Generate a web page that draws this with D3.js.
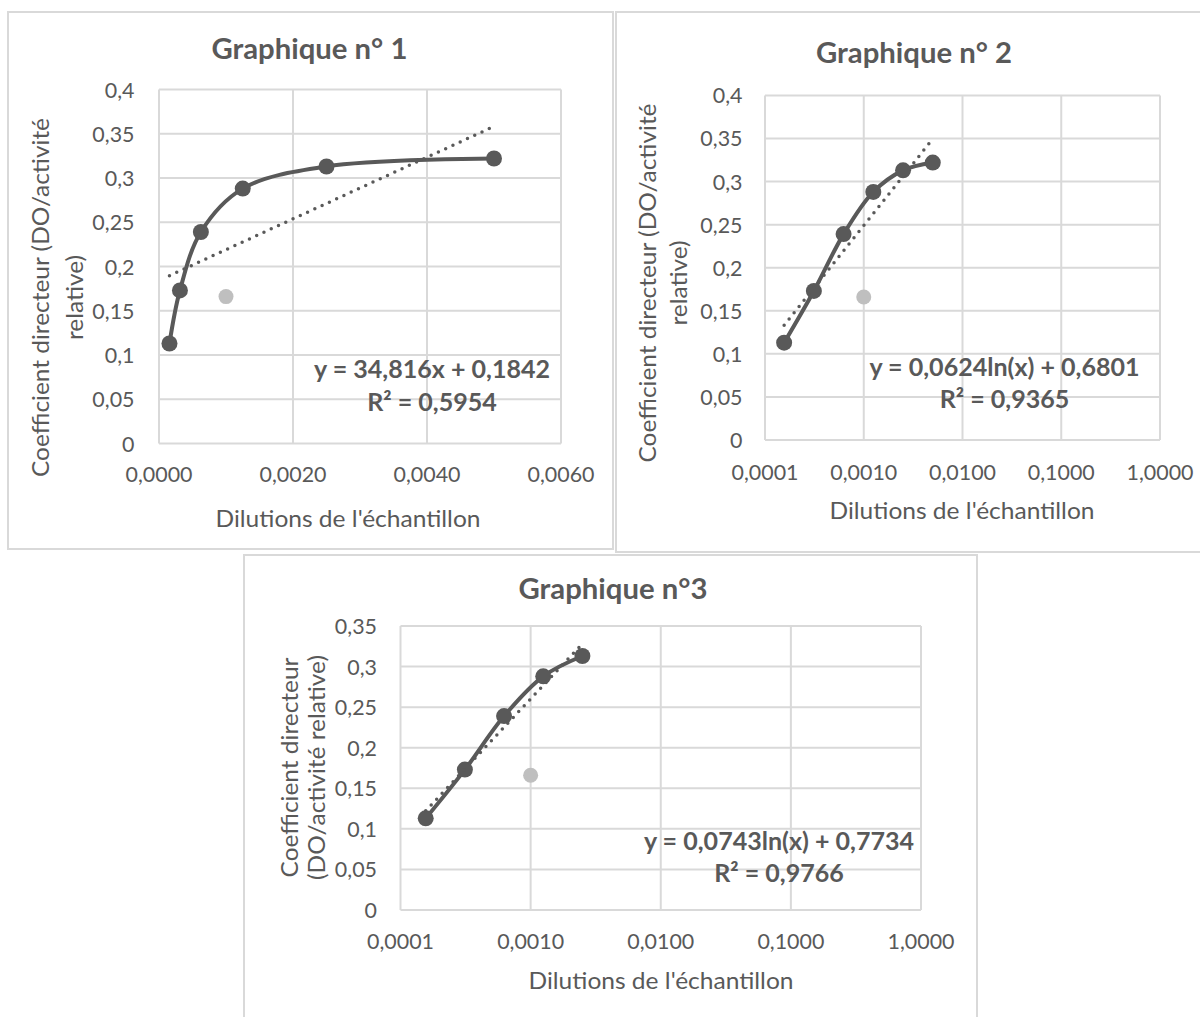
<!DOCTYPE html>
<html><head><meta charset="utf-8">
<script src="https://cdn.jsdelivr.net/npm/d3@7"></script>
<style>
body{margin:0;background:#fff}
svg{display:block}
text{font-family:Lato,"Open Sans",sans-serif;fill:#595959}
</style>
</head><body>
<svg id="c" width="1200" height="1017"></svg>
<script>
// ---------- data ----------
const dilutions = [0.00015625, 0.0003125, 0.000625, 0.00125, 0.0025, 0.005];
const coefficients = [0.113, 0.173, 0.239, 0.288, 0.313, 0.322];
const dilutions3 = [0.00015625, 0.0003125, 0.000625, 0.00125, 0.0025];
const coefficients3 = [0.113, 0.173, 0.239, 0.288, 0.313];
const excludedDilution = [0.001];
const excludedCoefficient = [0.166];
const titles = ["Graphique n° 1", "Graphique n° 2", "Graphique n°3"];
const xAxisTitle = "Dilutions de l'échantillon";
const yAxisTitle12 = ["Coefficient directeur (DO/activité", "relative)"];
const yAxisTitle3 = ["Coefficient directeur", "(DO/activité relative)"];
const yTicks12 = [0, 0.05, 0.1, 0.15, 0.2, 0.25, 0.3, 0.35, 0.4];
const yTicks3 = [0, 0.05, 0.1, 0.15, 0.2, 0.25, 0.3, 0.35];
const xTicksLinear = [0, 0.002, 0.004, 0.006];
const xTicksLog = [0.0001, 0.001, 0.01, 0.1, 1];
const trendSlopes = [34.816, 0.0624, 0.0743];
const trendIntercepts = [0.1842, 0.6801, 0.7734];
const trendKinds = ["linear", "log", "log"];
const equations = [
  ["y = 34,816x + 0,1842", "R² = 0,5954"],
  ["y = 0,0624ln(x) + 0,6801", "R² = 0,9365"],
  ["y = 0,0743ln(x) + 0,7734", "R² = 0,9766"]
];

// ---------- style ----------
const INK = "#595959", GRID = "#d9d9d9", LIGHT = "#bfbfbf";
const svg = d3.select("#c");

// font styles: size chosen to match cap height, squeeze factor to match width
function makeStyle(refTxt, weight, size, target) {
  const t = svg.append("text").attr("font-size", size).attr("font-weight", weight).text(refTxt);
  const w = t.node().getComputedTextLength();
  t.remove();
  return {size, weight, k: target / w};
}
const S = {
  title: makeStyle(titles[0], "bold", 28.5, 196),
  tick: makeStyle("0,0020", "normal", 20.5, 67),
  axis: makeStyle(xAxisTitle, "normal", 23.5, 265),
  ytitle: makeStyle(yAxisTitle12[0], "normal", 23.5, 359),
  eq: makeStyle(equations[0][0], "bold", 25, 236)
};
function styled(sel, st) {
  sel.attr("font-size", st.size).attr("font-weight", st.weight);
  sel.each(function() {
    const w = this.getComputedTextLength();
    d3.select(this).attr("textLength", w * st.k).attr("lengthAdjust", "spacingAndGlyphs");
  });
  return sel;
}

const fmtX = v => d3.format(".4f")(v).replace(".", ",");
const fmtY = v => String(+v.toFixed(2)).replace(".", ",");

const charts = [
  { frame: [8, 12, 605, 537], plot: {l: 159, r: 561, t: 89.5, b: 443.5}, log: false,
    xDomain: [0, 0.006], xTicks: xTicksLinear, yDomain: [0, 0.4], yTicks: yTicks12,
    xs: dilutions, ys: coefficients, title: titles[0], titlePos: [309.4, 59],
    yTickRight: 134.5, xTickBase: 482, axisTitlePos: [348, 527],
    yTitle: yAxisTitle12, yTitleBase: [49.4, 83], yTitleCenter: 297.5,
    eq: equations[0], eqCenter: 432, eqBase: [378, 411], k: 0 },
  { frame: [616, 12, 600, 540], plot: {l: 765, r: 1160, t: 95.4, b: 440}, log: true,
    xDomain: [0.0001, 1], xTicks: xTicksLog, yDomain: [0, 0.4], yTicks: yTicks12,
    xs: dilutions, ys: coefficients, title: titles[1], titlePos: [914, 62.5],
    yTickRight: 742.5, xTickBase: 480, axisTitlePos: [962, 518.6],
    yTitle: yAxisTitle12, yTitleBase: [656, 687], yTitleCenter: 283,
    eq: equations[1], eqCenter: 1004.5, eqBase: [376, 408], k: 1 },
  { frame: [244, 555, 733, 500], plot: {l: 400.5, r: 921, t: 626, b: 910}, log: true,
    xDomain: [0.0001, 1], xTicks: xTicksLog, yDomain: [0, 0.35], yTicks: yTicks3,
    xs: dilutions3, ys: coefficients3, title: titles[2], titlePos: [613, 599],
    yTickRight: 377, xTickBase: 949, axisTitlePos: [661, 989],
    yTitle: yAxisTitle3, yTitleBase: [297.6, 325], yTitleCenter: 767.5,
    eq: equations[2], eqCenter: 779, eqBase: [850, 882], k: 2 }
];

charts.forEach(c => {
  const g = svg.append("g");
  g.append("rect").attr("x", c.frame[0]).attr("y", c.frame[1])
    .attr("width", c.frame[2]).attr("height", c.frame[3])
    .attr("fill", "#fff").attr("stroke", GRID).attr("stroke-width", 2);

  const p = c.plot;
  const x = (c.log ? d3.scaleLog() : d3.scaleLinear()).domain(c.xDomain).range([p.l, p.r]);
  const y = d3.scaleLinear().domain(c.yDomain).range([p.b, p.t]);

  // gridlines
  g.selectAll(".hg").data(c.yTicks).join("line")
    .attr("x1", p.l).attr("x2", p.r).attr("y1", d => y(d)).attr("y2", d => y(d))
    .attr("stroke", GRID).attr("stroke-width", 2);
  g.selectAll(".vg").data(c.xTicks).join("line")
    .attr("x1", d => x(d)).attr("x2", d => x(d)).attr("y1", p.t).attr("y2", p.b)
    .attr("stroke", GRID).attr("stroke-width", 2);

  // tick labels
  styled(g.selectAll(".yt").data(c.yTicks).join("text")
    .attr("x", c.yTickRight).attr("y", d => y(d) + 8)
    .attr("text-anchor", "end").text(fmtY), S.tick);
  styled(g.selectAll(".xt").data(c.xTicks).join("text")
    .attr("x", d => x(d)).attr("y", c.xTickBase)
    .attr("text-anchor", "middle").text(fmtX), S.tick);

  // titles
  styled(g.append("text").attr("x", c.titlePos[0]).attr("y", c.titlePos[1])
    .attr("text-anchor", "middle").text(c.title), S.title);
  styled(g.append("text").attr("x", c.axisTitlePos[0]).attr("y", c.axisTitlePos[1])
    .attr("text-anchor", "middle").text(xAxisTitle), S.axis);
  c.yTitle.forEach((t, i) => {
    styled(g.append("text").attr("transform", `translate(${c.yTitleBase[i]},${c.yTitleCenter}) rotate(-90)`)
      .attr("text-anchor", "middle").text(t), S.ytitle);
  });

  // series line
  const pts = c.xs.map((d, i) => [d, c.ys[i]]);
  g.append("path").datum(pts)
    .attr("d", d3.line().x(d => x(d[0])).y(d => y(d[1])).curve(d3.curveCatmullRom.alpha(0.5)))
    .attr("fill", "none").attr("stroke", INK).attr("stroke-width", 4).attr("stroke-linejoin", "round");
  g.selectAll(".pt").data(pts).join("circle")
    .attr("cx", d => x(d[0])).attr("cy", d => y(d[1])).attr("r", 8).attr("fill", INK);

  // excluded point
  g.selectAll(".ex").data(excludedDilution.map((d, i) => [d, excludedCoefficient[i]])).join("circle")
    .attr("cx", d => x(d[0])).attr("cy", d => y(d[1])).attr("r", 7.5).attr("fill", LIGHT);

  // trendline
  const x0 = c.xs[0], x1 = c.xs[c.xs.length - 1];
  const a = trendSlopes[c.k], b = trendIntercepts[c.k];
  const f = trendKinds[c.k] === "linear" ? (v => a * v + b) : (v => a * Math.log(v) + b);
  const px0 = x(x0), px1 = x(x1);
  const samples = d3.range(0, 41).map(i => x.invert(px0 + (px1 - px0) * i / 40));
  g.append("path").datum(samples)
    .attr("d", d3.line().x(d => x(d)).y(d => y(f(d))))
    .attr("fill", "none").attr("stroke", INK).attr("stroke-width", 3.5)
    .attr("stroke-linecap", "round").attr("stroke-dasharray", "0,8");

  // equation
  c.eq.forEach((t, i) => {
    styled(g.append("text").attr("x", c.eqCenter).attr("y", c.eqBase[i])
      .attr("text-anchor", "middle").text(t), S.eq);
  });
});
</script>
</body></html>
